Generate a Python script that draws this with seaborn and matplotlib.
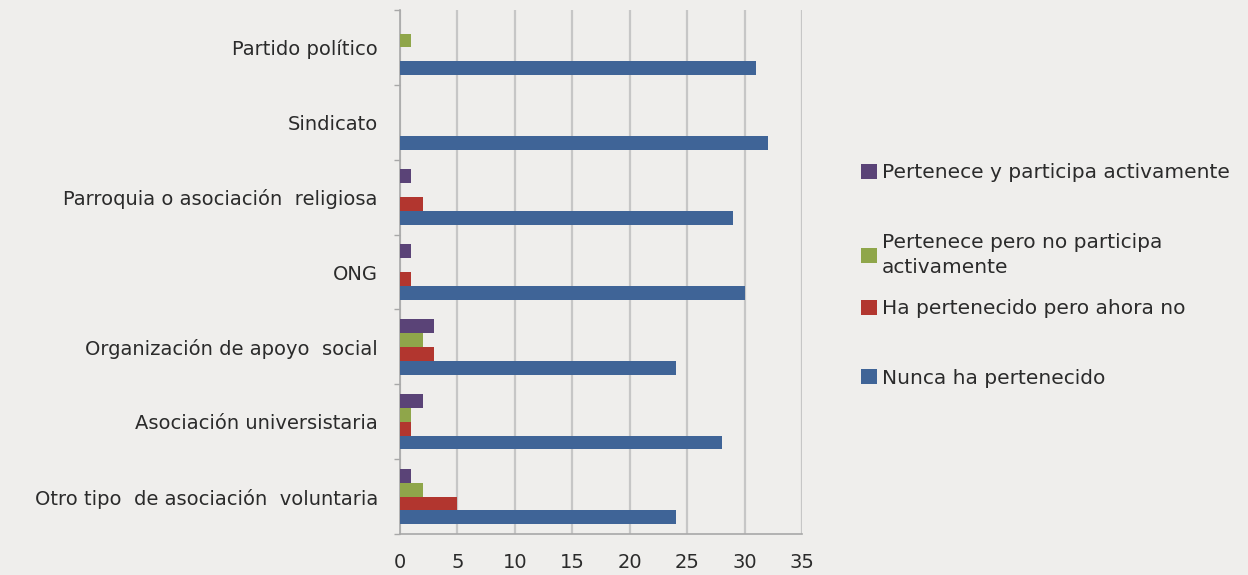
import numpy as np
import pandas as pd
import matplotlib
matplotlib.use("Agg")
import matplotlib.pyplot as plt
import seaborn as sns

# Datos
categorias = [
    "Partido político",
    "Sindicato",
    "Parroquia o asociación  religiosa",
    "ONG",
    "Organización de apoyo  social",
    "Asociación universistaria",
    "Otro tipo  de asociación  voluntaria",
]
series = [
    "Pertenece y participa activamente",
    "Pertenece pero no participa\nactivamente",
    "Ha pertenecido pero ahora no",
    "Nunca ha pertenecido",
]
participa = [0, 0, 1, 1, 3, 2, 1]
no_participa = [1, 0, 0, 0, 2, 1, 2]
ha_pertenecido = [0, 0, 2, 1, 3, 1, 5]
nunca = [31, 32, 29, 30, 24, 28, 24]
colores = ["#5a4377", "#8fa64a", "#b2362f", "#3f6497"]

BG = "#efeeec"
TXT = "#2b2b2b"
W, H = 1248, 575

df = pd.DataFrame({
    "categoria": categorias * 4,
    "serie": np.repeat(series, len(categorias)),
    "valor": participa + no_participa + ha_pertenecido + nunca,
})

sns.set_theme(style="white")
plt.rcParams["font.family"] = ["DejaVu Sans"]

fig = plt.figure(figsize=(W / 100, H / 100), dpi=100, facecolor=BG)
ax = fig.add_axes([400 / W, 1 - 534 / H, 402 / W, 524 / H], facecolor=BG)

sns.barplot(data=df, y="categoria", x="valor", hue="serie", order=categorias,
            hue_order=series, palette=colores, orient="h", width=0.74,
            saturation=1, linewidth=0, ax=ax, zorder=3, legend=True)

ax.set_xlim(0, 35)
ax.set_xticks(range(0, 36, 5))
ax.set_ylim(len(categorias) - 0.5, -0.5)
ax.set_yticks(np.arange(len(categorias) + 1) - 0.5, minor=True)
ax.grid(axis="x", color="#c6c6c6", linewidth=1.6, zorder=0)
ax.set_xlabel("")
ax.set_ylabel("")

for s in ["top", "right"]:
    ax.spines[s].set_visible(False)
for s in ["left", "bottom"]:
    ax.spines[s].set_color("#a8a8a8")
    ax.spines[s].set_linewidth(1.2)

ax.tick_params(axis="x", which="major", length=4, color="#a8a8a8",
               labelsize=14, labelcolor=TXT, pad=10)
ax.tick_params(axis="y", which="major", length=0, labelsize=14,
               labelcolor=TXT, pad=16)
ax.tick_params(axis="y", which="minor", length=4, color="#a8a8a8", left=True)

# leyenda: una entrada por bloque, como en la hoja de cálculo
handles, labels = ax.get_legend_handles_labels()
ax.get_legend().remove()
centros_y = [173, 255, 309, 378]
for h, lab, yc in zip(handles, labels, centros_y):
    lg = fig.legend([h], [lab], loc="center left",
                    bbox_to_anchor=(851 / W, 1 - yc / H), frameon=False,
                    fontsize=14.5, handlelength=0.8, handleheight=0.8,
                    handletextpad=0.25, labelcolor=TXT, borderpad=0)
    for t in lg.get_texts():
        t.set_linespacing(1.35)

fig.savefig("out.png", dpi=100, facecolor=BG)
